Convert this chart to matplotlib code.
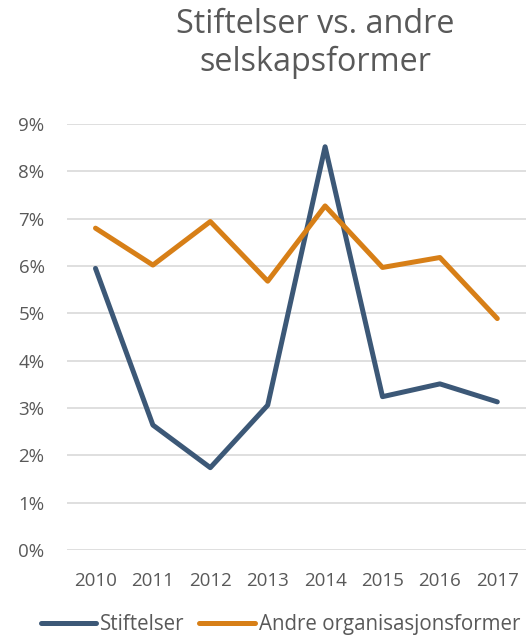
import matplotlib
matplotlib.use("Agg")
import matplotlib.pyplot as plt
from matplotlib.ticker import FuncFormatter, MultipleLocator

plt.rcParams['font.family'] = ['Open Sans', 'DejaVu Sans']

years = ["2010", "2011", "2012", "2013", "2014", "2015", "2016", "2017"]
stiftelser = [5.95, 2.64, 1.74, 3.06, 8.52, 3.24, 3.51, 3.13]
andre = [6.80, 6.02, 6.94, 5.68, 7.27, 5.97, 6.18, 4.89]
series_names = ["Stiftelser", "Andre organisasjonsformer"]
title = "Stiftelser vs. andre\nselskapsformer"

blue = "#3C5877"
orange = "#D77F17"
text_col = "#595959"
grid_col = "#D9D9D9"

fig = plt.figure(figsize=(5.26, 6.4), dpi=100)
ax = fig.add_axes([0.127, 0.1406, 0.873, 0.6656])

x = list(range(len(years)))
ax.plot(x, stiftelser, color=blue, lw=3.6, solid_capstyle='round', solid_joinstyle='round', label=series_names[0], zorder=3)
ax.plot(x, andre, color=orange, lw=3.6, solid_capstyle='round', solid_joinstyle='round', label=series_names[1], zorder=3)

ax.set_xlim(-0.5, len(years) - 0.5)
ax.set_ylim(0, 9)
ax.yaxis.set_major_locator(MultipleLocator(1))
ax.yaxis.set_major_formatter(FuncFormatter(lambda v, p: f"{int(round(v))}%"))
ax.set_xticks(x)
ax.set_xticklabels(years)
ax.grid(axis='y', color=grid_col, lw=1.2, zorder=0)
ax.grid(axis='x', visible=False)
for s in ax.spines.values():
    s.set_visible(False)
ax.tick_params(axis='both', length=0, labelsize=13.5, labelcolor=text_col)
ax.tick_params(axis='x', pad=16)
ax.tick_params(axis='y', pad=16)

fig.text(0.599, 0.988, title, ha='center', va='top', fontsize=23.3, color=text_col, linespacing=1.22)

leg = fig.legend(loc='lower center', bbox_to_anchor=(0.533, -0.021), ncol=2, frameon=False,
                 fontsize=14.8, handlelength=2.7, handletextpad=0.2, columnspacing=0.7)
for t in leg.get_texts():
    t.set_color(text_col)

fig.savefig("out.png", dpi=100)
